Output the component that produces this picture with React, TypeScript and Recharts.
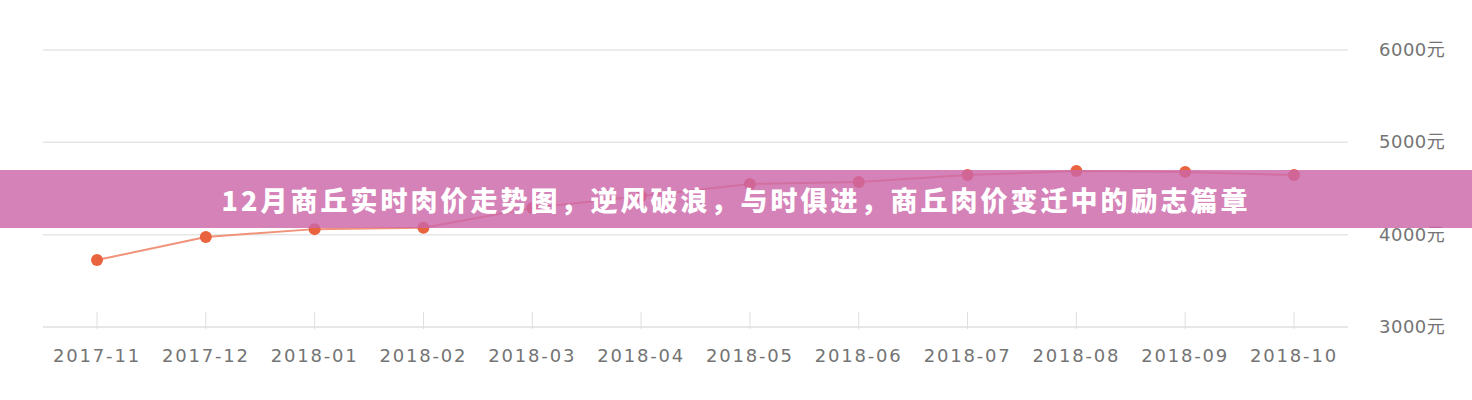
import React from 'react';
import { LineChart, Line, XAxis, YAxis, CartesianGrid } from 'recharts';

const months = [
    '2017-11', '2017-12', '2018-01', '2018-02', '2018-03', '2018-04',
    '2018-05', '2018-06', '2018-07', '2018-08', '2018-09', '2018-10',
];
const prices = [3725, 3975, 4060, 4075, 4290, 4420, 4550, 4570, 4645, 4690, 4680, 4645];
const yTicks = [3000, 4000, 5000, 6000];
const title = '12月商丘实时肉价走势图，逆风破浪，与时俱进，商丘肉价变迁中的励志篇章';

const data = months.map((m, i) => ({ month: m, price: prices[i] }));

const XTick = ({ x, y, payload }) => (
    <g>
        <line x1={x} x2={x} y1={y - 17} y2={y} stroke="#dedede" strokeWidth={1} />
        <text
            x={x}
            y={y + 33}
            textAnchor="middle"
            fill="#747474"
            fontSize={18}
            fontFamily="DejaVu Sans"
            letterSpacing={1.8}
        >
            {payload.value}
        </text>
    </g>
);

const YTick = ({ x, y, payload }) => (
    <text
        x={x + 29}
        y={y + 6}
        textAnchor="start"
        fill="#747474"
        fontSize={18}
        fontFamily="DejaVu Sans, Noto Sans CJK SC"
        letterSpacing={0.5}
    >
        {payload.value}元
    </text>
);

export default function App() {
    return (
        <div style={{ position: 'absolute', left: 0, top: 0, width: 1472, height: 400, background: '#fff' }}>
            <LineChart
                width={1472}
                height={400}
                data={data}
                margin={{ top: 50, right: 0, left: 43, bottom: 33 }}
            >
                <CartesianGrid vertical={false} stroke="#e6e6e6" strokeWidth={1.5} />
                <XAxis
                    dataKey="month"
                    height={40}
                    interval={0}
                    padding={{ left: 54, right: 54 }}
                    axisLine={{ stroke: '#e6e6e6', strokeWidth: 1.5 }}
                    tickLine={false}
                    tickSize={0}
                    tick={XTick}
                />
                <YAxis
                    orientation="right"
                    width={124}
                    domain={[3000, 6000]}
                    ticks={yTicks}
                    axisLine={false}
                    tickLine={false}
                    tickSize={0}
                    tick={YTick}
                />
                <Line
                    dataKey="price"
                    stroke="#f0937a"
                    strokeWidth={2}
                    dot={{ r: 6, fill: '#e9633e', stroke: 'none' }}
                    isAnimationActive={false}
                />
            </LineChart>
            <div
                style={{
                    position: 'absolute',
                    left: 0,
                    top: 170,
                    width: 1472,
                    height: 58,
                    background: 'rgba(204, 102, 170, 0.82)',
                    display: 'flex',
                    alignItems: 'center',
                    justifyContent: 'center',
                    color: '#fff',
                    fontFamily: '"Noto Sans CJK SC", sans-serif',
                    fontWeight: 900,
                    fontSize: 27,
                    letterSpacing: 3,
                    pointerEvents: 'none',
                }}
            >
                {title}
            </div>
        </div>
    );
}
